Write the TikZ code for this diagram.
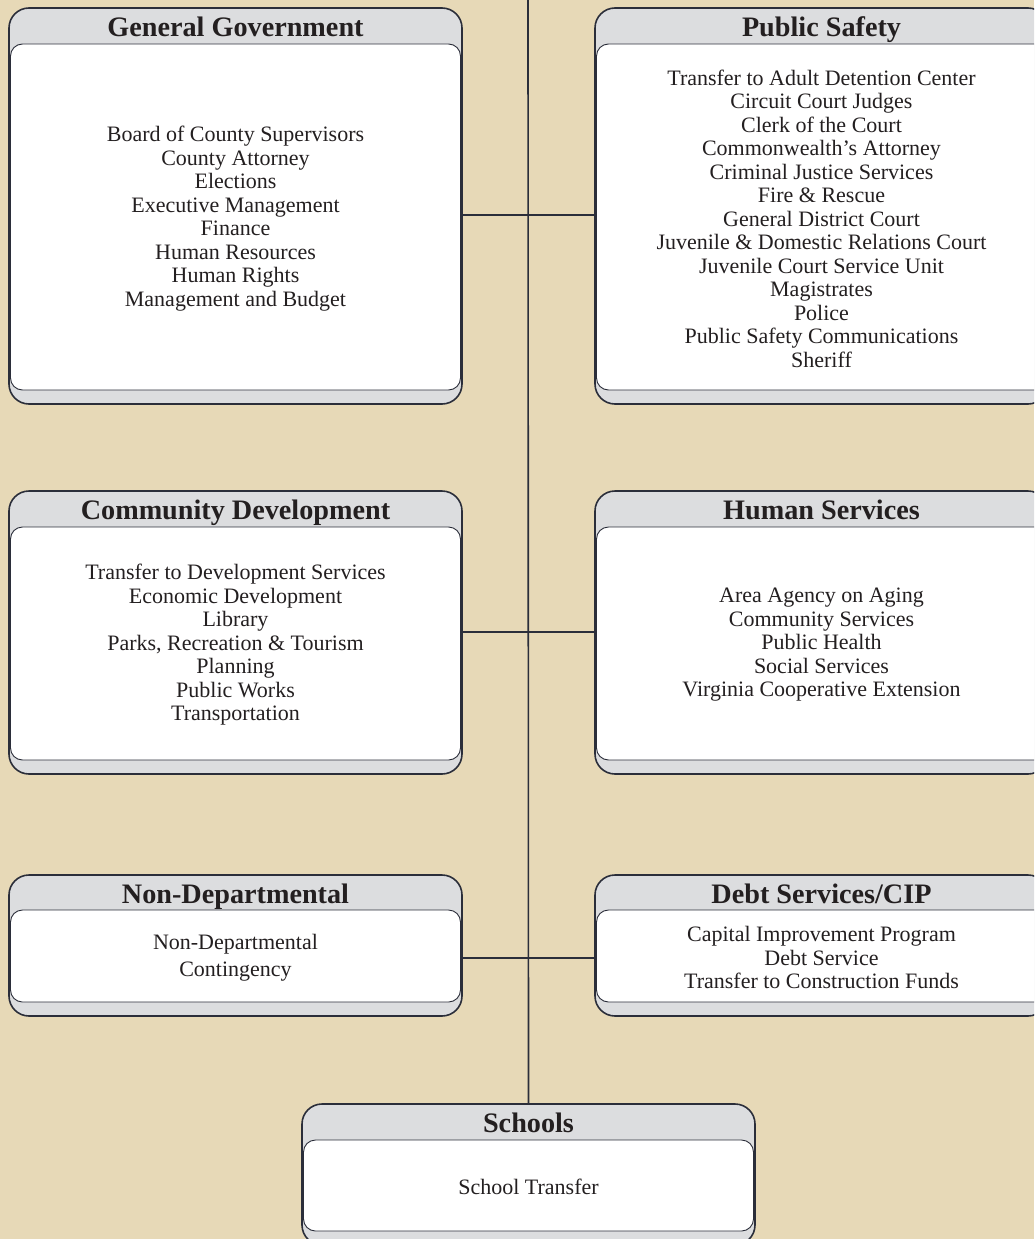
\documentclass[tikz,border=0pt]{standalone}
\usepackage{fontspec}
\setmainfont{Liberation Serif}
\definecolor{bg}{HTML}{E7D9B7}
\definecolor{hdr}{HTML}{DCDDDF}
\definecolor{edge}{HTML}{2B2E3A}
\definecolor{ink}{HTML}{231F20}
\tikzset{
  outerbox/.style={draw=edge, fill=hdr, line width=1.6pt, rounded corners=20pt, inner sep=0pt, outer sep=0pt},
  innerbox/.style={draw=edge, fill=white, line width=0.9pt, rounded corners=12pt, inner sep=0pt, outer sep=0pt},
  headtext/.style={font=\fontsize{28.2}{30}\selectfont\bfseries, text=ink, inner sep=0pt, anchor=base},
  bodytext/.style={font=\fontsize{22}{23.5}\selectfont, text=ink, align=center, inner sep=0pt, yshift=-1.5pt},
  conn/.style={draw=edge, line width=1.6pt},
}
% #1 name, #2 left, #3 right, #4 top, #5 header bottom, #6 inner bottom, #7 bottom, #8 title, #9 body
\newcommand\deptbox[9]{%
  \node[outerbox, minimum width={(#3)-(#2)}, minimum height={(#7)-(#4)}] (#1) at ({((#2)+(#3))/2},{((#4)+(#7))/2}) {};
  \node[innerbox, minimum width={(#3)-(#2)-3}, minimum height={(#6)-(#5)}] (#1i) at ({((#2)+(#3))/2},{((#5)+(#6))/2}) {};
  \node[headtext] (#1h) at ({((#2)+(#3))/2},{(#4)+28.5}) {#8};
  \node[bodytext] (#1b) at (#1i.center) {#9};
}
\begin{document}
\begin{tikzpicture}[x=1pt,y=-1pt]
\useasboundingbox (0,0) rectangle (1034,1239);
\clip (0,0) rectangle (1034,1239);
\fill[bg] (0,0) rectangle (1034,1239);
\coordinate (top) at (528,0);
\coordinate (h1) at (528,215);
\coordinate (h2) at (528,632);
\coordinate (h3) at (528,958);

\deptbox{gg}{9}{462}{8}{44}{390}{404}{General Government}{Board of County Supervisors\\County Attorney\\Elections\\Executive Management\\Finance\\Human Resources\\Human Rights\\Management and Budget}
\deptbox{ps}{595}{1048}{8}{44}{390}{404}{Public Safety}{Transfer to Adult Detention Center\\Circuit Court Judges\\Clerk of the Court\\Commonwealth’s Attorney\\Criminal Justice Services\\Fire \& Rescue\\General District Court\\Juvenile \& Domestic Relations Court\\Juvenile Court Service Unit\\Magistrates\\Police\\Public Safety Communications\\Sheriff}
\deptbox{cd}{9}{462}{491}{527}{760}{774}{Community Development}{Transfer to Development Services\\Economic Development\\Library\\Parks, Recreation \& Tourism\\Planning\\Public Works\\Transportation}
\deptbox{hs}{595}{1048}{491}{527}{760}{774}{Human Services}{Area Agency on Aging\\Community Services\\Public Health\\Social Services\\Virginia Cooperative Extension}
\deptbox{nd}{9}{462}{875}{910}{1002}{1016}{Non-Departmental}{Non-Departmental\\[3.5pt]Contingency}
\deptbox{ds}{595}{1048}{875}{910}{1002}{1016}{Debt Services/CIP}{Capital Improvement Program\\Debt Service\\Transfer to Construction Funds}
\deptbox{sc}{302}{755}{1104}{1140}{1231}{1245}{Schools}{School Transfer}

\draw[conn] (top) -- (sc.north);
\draw[conn] (gg.east |- h1) -- (ps.west |- h1);
\draw[conn] (cd.east |- h2) -- (hs.west |- h2);
\draw[conn] (nd.east |- h3) -- (ds.west |- h3);
\end{tikzpicture}
\end{document}
